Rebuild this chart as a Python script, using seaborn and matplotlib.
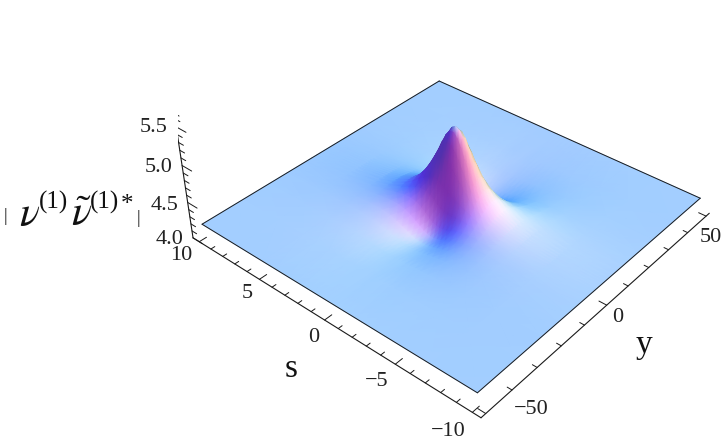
import numpy as np, matplotlib
matplotlib.use('Agg')
import matplotlib.pyplot as plt
import seaborn as sns
from mpl_toolkits.mplot3d import proj3d

sns.set_theme(style='white')
plt.rcParams['font.family'] = ['Liberation Serif', 'DejaVu Serif']
plt.rcParams['mathtext.fontset'] = 'stix'

# Grid of the surface, far corner first so that nearer cells paint over farther ones.
s_vals = np.array([10,7,5,4,3,2.4,1.9,1.5,1.1,.8,.5,.25,0,-.25,-.5,-.8,-1.1,-1.5,-1.9,-2.4,-3,-4,-5,-7,-10],float)
y_vals = np.array([50,35,25,18,14,10.5,8,6,4.5,3,2,1,0,-1,-2,-3,-4.5,-6,-8,-10.5,-14,-18,-25,-35,-50],float)
# Height above 4.0, in thousandths. Estimates only: the picture gives no readable values,
# so these come from a lump shape adjusted by eye against the reference's silhouette and shading.
height_rows = [
 [207,207,207,207,207,207,207,207,207,207,207,207,207,207,207,207,207,207,207,207,207,207,207,207,207],
 [207,206,209,213,217,221,224,227,228,230,231,232,232,233,234,234,234,234,233,232,228,224,215,208,207],
 [207,202,204,213,223,235,246,255,261,267,271,275,277,280,281,282,282,280,276,267,252,234,214,204,207],
 [207,199,197,207,221,241,260,278,291,304,312,319,325,329,332,333,331,325,312,291,261,232,205,199,207],
 [207,195,186,191,208,239,274,309,338,367,385,401,414,423,427,426,415,396,360,311,254,213,190,193,207],
 [207,192,178,176,191,227,276,330,378,428,459,487,509,522,525,519,493,451,386,308,232,191,177,190,207],
 [207,189,170,159,169,207,268,344,417,498,550,595,629,647,647,629,573,497,391,284,200,166,167,187,207],
 [207,187,163,144,146,182,252,350,452,570,649,717,766,787,777,737,639,519,373,247,166,145,159,185,207],
 [207,186,157,129,121,150,226,349,488,659,776,876,943,962,929,852,687,514,329,196,130,125,153,184,207],
 [207,185,153,118,103,124,202,345,516,735,886,1015,1094,1104,1042,924,699,485,282,155,106,114,149,183,207],
 [207,184,149,109,88,102,183,343,546,814,1001,1154,1238,1228,1127,964,682,441,233,119,87,105,147,183,207],
 [207,183,148,104,79,91,175,350,577,878,1085,1248,1325,1291,1158,962,651,401,200,98,78,102,146,183,207],
 [207,183,146,101,76,89,180,369,613,931,1142,1299,1357,1299,1142,931,613,369,180,89,76,101,146,183,207],
 [207,183,146,102,78,98,200,401,651,962,1158,1291,1325,1248,1085,878,577,350,175,91,79,104,148,183,207],
 [207,183,147,105,87,119,233,441,682,964,1127,1228,1238,1154,1001,814,546,343,183,102,88,109,149,184,207],
 [207,183,149,114,106,155,282,485,699,924,1042,1104,1094,1015,886,735,516,345,202,124,103,118,153,185,207],
 [207,184,153,125,130,196,329,514,687,852,929,962,943,876,776,659,488,349,226,150,121,129,157,186,207],
 [207,185,159,145,166,247,373,519,639,737,777,787,766,717,649,570,452,350,252,182,146,144,163,187,207],
 [207,187,167,166,200,284,391,497,573,629,647,647,629,595,550,498,417,344,268,207,169,159,170,189,207],
 [207,190,177,191,232,308,386,451,493,519,525,522,509,487,459,428,378,330,276,227,191,176,178,192,207],
 [207,193,190,213,254,311,360,396,415,426,427,423,414,401,385,367,338,309,274,239,208,191,186,195,207],
 [207,199,205,232,261,291,312,325,331,333,332,329,325,319,312,304,291,278,260,241,221,207,197,199,207],
 [207,204,214,234,252,267,276,280,282,282,281,280,277,275,271,267,261,255,246,235,223,213,204,202,207],
 [207,208,215,224,228,232,233,234,234,234,234,233,232,232,231,230,228,227,224,221,217,213,209,206,207],
 [207,207,207,207,207,207,207,207,207,207,207,207,207,207,207,207,207,207,207,207,207,207,207,207,207],
]
z_ticks = [4.0,4.5,5.0,5.5]

S,Y = np.meshgrid(s_vals,y_vals,indexing='ij')
heights = 4.0+np.array(height_rows,float)/1000

EL,AZ,F,ROLL,BZ=35.266,-139.987,0.419,-0.356,0.398
P,Q,ZT=0.537,1.758,5.67
SC,CX,CY=2923.75,455.4,280.13
W,H=726,446
fig=plt.figure(figsize=(W/100,H/100),dpi=100,facecolor='white')
L=0.185*SC; x0=CX-0.095*SC; y0=CY-0.095*SC
rect=[x0/W,y0/H,L/W,L/H]
mesh_ax=fig.add_axes(rect); mesh_ax.set_axis_off()
mesh_ax.set_xlim(-0.095,0.09); mesh_ax.set_ylim(-0.095,0.09)
ax=fig.add_axes(rect,projection='3d',zorder=2)
ax.patch.set_alpha(0); ax.set_axis_off()
ax.set_proj_type('persp',focal_length=F); ax.view_init(EL,AZ,ROLL); ax.set_box_aspect((1,1,BZ))
ax.set_xlim(-50-Q,50+Q); ax.set_ylim(-10-P,10+P); ax.set_zlim(4.0,ZT)
M=ax.get_proj()
xp,yp,_=proj3d.proj_transform(Y.ravel(),S.ravel(),heights.ravel(),M)
xp=xp.reshape(S.shape); yp=yp.reshape(S.shape)

# Shading: ambient plus three coloured lights in view space, from the surface normals.
bx=2*(50+Q); by=2*(10+P); bz=(ZT-4.0)/BZ
dZ_s,dZ_y=np.gradient(heights/bz,s_vals/by,y_vals/bx)
n=np.stack([-dZ_y,-dZ_s,np.ones_like(heights)],-1); n/=np.linalg.norm(n,axis=-1,keepdims=True)
a,e=np.radians(AZ),np.radians(EL)
r_=np.array([-np.sin(a),np.cos(a),0]); u_=np.array([-np.sin(e)*np.cos(a),-np.sin(e)*np.sin(a),np.cos(e)]); v_=np.array([np.cos(e)*np.cos(a),np.cos(e)*np.sin(a),np.sin(e)])
nv=np.stack([n@r_,n@u_,n@v_],-1)
lights=np.array([[1,0,1],[1,1,1],[0,1,1]],float); lights/=np.linalg.norm(lights,axis=1,keepdims=True)
amb=np.array([.312,.188,.4]); gain=np.array([.8,.77,.8])
rgb=np.clip(amb+gain*np.clip(nv@lights.T,0,None),0,1)
mesh_ax.pcolormesh(xp,yp,np.dstack([rgb,np.ones(S.shape)]),shading='gouraud')

lk=dict(color='k',lw=.8)
s1,y1=10+P,-50-Q; s2,y2=-10-P,50+Q
ax.plot([y1,y1],[s1,s2],[4,4],**lk); ax.plot([y1,y2],[s2,s2],[4,4],**lk); ax.plot([y1,y1],[s1,s1],[4,ZT],**lk)
for t in np.arange(-10,11,1):
    l=2.6 if t%5==0 else 1.4
    ax.plot([y1,y1+l],[t,t],[4,4],color='k',lw=.7)
for t in np.arange(-50,51,10):
    l=0.5 if t%50==0 else 0.3
    ax.plot([t,t],[s2,s2+l],[4,4],color='k',lw=.7)
for i in range(40,57):
    l=0.8 if i%5==0 else 0.4
    ax.plot([y1,y1],[s1,s1-l],[i/10,i/10],color='k',lw=.7)
ax.plot([y1,y1],[s1,s1-.4],[ZT,ZT],color='k',lw=.7)
m=len(y_vals)
ax.plot(y_vals,np.full(m,10.),heights[0,:],color='k',lw=.7)
ax.plot(y_vals,np.full(m,-10.),heights[-1,:],color='k',lw=.7)
ax.plot(np.full(m,50.),s_vals,heights[:,0],color='k',lw=.7)
ax.plot(np.full(m,-50.),s_vals,heights[:,-1],color='k',lw=.7)

labels=[('5.5',154,127),('5.0',159,167),('4.5',165,205),('4.0',170,239),('10',181,255),('5',247,294),('0',314,337),('\u22125',377,382),('\u221210',448,432),('\u221250',531,409),('0',618,317),('50',711,237)]
for t,x,yy in labels:
    fig.text(x/W,1-yy/H,t,ha='center',va='center',fontsize=16,color='#222222',zorder=5)
fig.text(291/W,1-369/H,'s',ha='center',va='center',fontsize=24,color='#111111')
fig.text(644/W,1-345/H,'y',ha='center',va='center',fontsize=24,color='#111111')
def lab(t,x,yy,fs,**kw):
    fig.text(x/W,1-yy/H,t,fontsize=fs,color='#111111',**kw)
lab(r'$\nu$',19,226,30,ha='left',va='baseline')
lab('(1)',54,202,18,ha='center',va='center')
lab(r'$\tilde{\nu}$',71,226,30,ha='left',va='baseline')
lab('(1)',105,202,18,ha='center',va='center')
lab('*',127,205,18,ha='center',va='center')
lab('|',5,217,13,ha='center',va='center')
lab('|',138,218,13,ha='center',va='center')
fig.savefig('out.png',dpi=100)
